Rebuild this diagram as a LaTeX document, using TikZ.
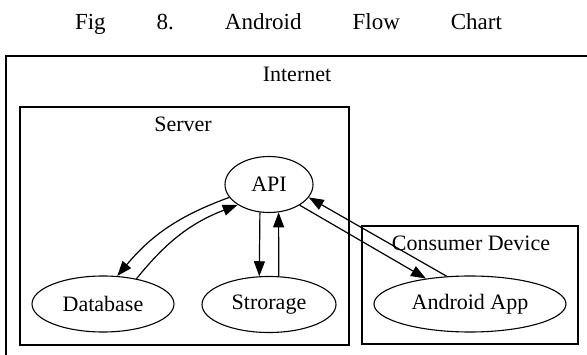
\documentclass[tikz,border=0pt]{standalone}
\usepackage{fontspec}
\setmainfont{Liberation Serif}
\usetikzlibrary{shapes.geometric,arrows.meta}

\begin{document}
\begin{tikzpicture}[x=1pt,y=-1pt,
  every node/.style={font=\fontsize{22}{26}\selectfont},
  cluster/.style={draw,line width=1.3pt},
  blob/.style={draw,ellipse,line width=1.1pt,inner sep=0pt,minimum height=56pt},
  link/.style={draw,line width=1.2pt,-{Triangle[length=15pt,width=11pt]}}]
\useasboundingbox (0,0) rectangle (587,355);
\clip (0,0) rectangle (587,355);

\node[anchor=base,inner sep=0pt,font=\fontsize{23}{27}\selectfont] (title) at (288.5,30) {\makebox[427pt]{Fig\hfill 8.\hfill Android\hfill Flow\hfill Chart}};

% clusters
\draw[cluster] (6,56) rectangle (600,370);
\node[anchor=base] (inet) at (297,82) {Internet};
\draw[cluster] (20,107) rectangle (349,345);
\node[anchor=base] (srv) at (183,132) {Server};
\draw[cluster] (362,226) rectangle (578,344);
\node[anchor=base] (dev) at (471,251) {Consumer Device};

\node[blob, minimum width=88pt] (api) at (269,184.5) {API};
\node[blob, minimum width=142pt] (db) at (103,304) {Database};
\node[blob, minimum width=134pt] (store) at (269,304.5) {Strorage};
\node[blob, minimum width=192pt] (app) at (470,304) {Android App};

\path[link] (api.198) to[bend right=15] (db.63);
\path[link] (db.37) to[bend left=15] (api.213);
\path[link] (api.252) -- (store.109);
\path[link] (store.71) -- (api.289);
\path[link] (api.326) -- (app.150);
\path[link] (app.130) -- (api.342);
\end{tikzpicture}
\end{document}
